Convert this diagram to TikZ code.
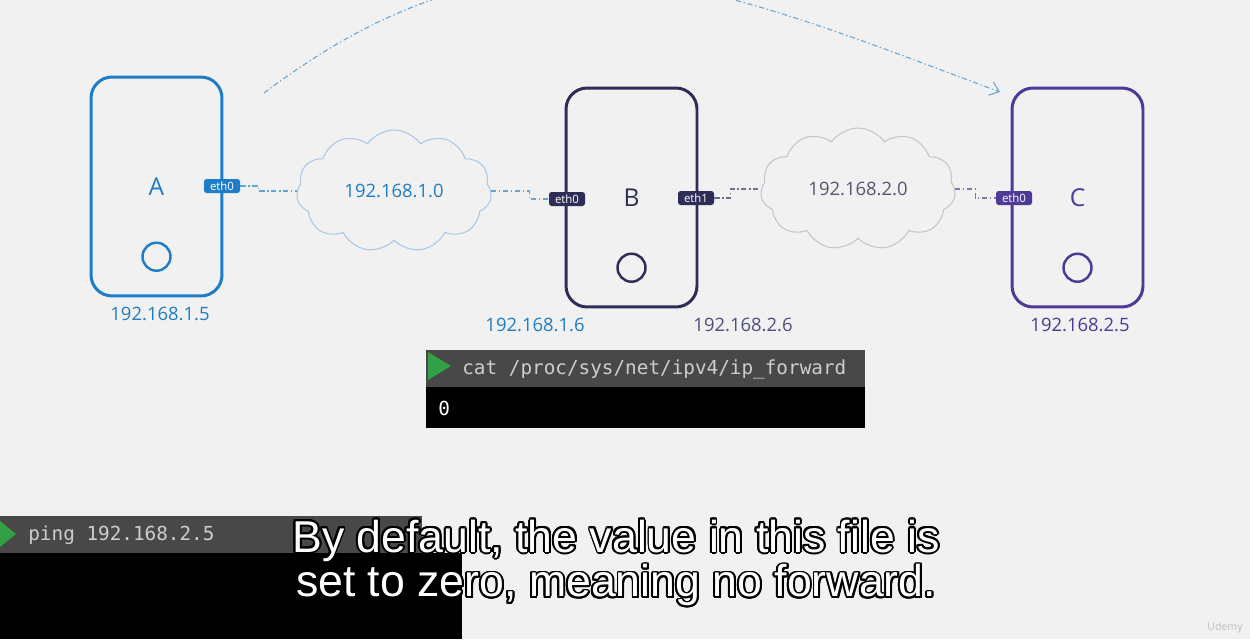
\documentclass[tikz,border=0pt]{standalone}
\usepackage{fontspec}
\setmainfont{Open Sans}
\newfontfamily\subfont{Liberation Sans}
\setmonofont{DejaVu Sans Mono}
\usepackage{contour}
\contourlength{1.1pt}
\usetikzlibrary{positioning}
\usetikzlibrary{shapes.symbols, arrows.meta}
\definecolor{bgcol}{RGB}{241,241,241}
\definecolor{hostA}{RGB}{30,125,200}
\definecolor{hostB}{RGB}{46,45,88}
\definecolor{hostC}{RGB}{78,56,152}
\definecolor{netA}{RGB}{170,200,230}
\definecolor{netB}{RGB}{196,196,204}
\definecolor{netBtext}{RGB}{85,85,112}
\definecolor{ipB}{RGB}{78,78,128}
\definecolor{hop}{RGB}{100,165,215}
\definecolor{termbar}{RGB}{72,72,72}
\definecolor{termtext}{RGB}{205,205,205}
\definecolor{prompt}{RGB}{50,160,70}

\begin{document}
\begin{tikzpicture}[x=0.02cm,y=-0.02cm,
  host/.style={draw,rounded corners=12pt,line width=1.7pt,minimum width=2.62cm,minimum height=4.38cm,inner sep=0pt,font=\fontsize{14}{14}\selectfont},
  nic/.style={rounded corners=1.5pt,minimum width=0.72cm,minimum height=0.28cm,inner sep=0pt,text=white,font=\fontsize{6.5}{6.5}\selectfont},
  port/.style={circle,draw,line width=1.4pt,minimum size=0.56cm,inner sep=0pt},
  ip/.style={font=\fontsize{10.5}{10.5}\selectfont},
  net/.style={cloud,cloud puffs=11,cloud puff arc=110,aspect=1.6,draw,line width=0.6pt,minimum width=3.9cm,minimum height=2.44cm,inner sep=0pt,font=\fontsize{10.5}{10.5}\selectfont},
  link/.style={line width=0.6pt,dash pattern=on 3pt off 1.5pt on 0.8pt off 1.5pt},
  cmd/.style={anchor=west,inner sep=0pt,font=\ttfamily\fontsize{11}{11}\selectfont}]
\fill[bgcol] (0,0) rectangle (1250,639);
\useasboundingbox (0,0) rectangle (1250,639);

\node[host,draw=hostA,text=hostA] (A) at (156.5,186.5) {A};
\node[host,draw=hostB,text=hostB] (B) at (631.5,197.5) {B};
\node[host,draw=hostC,text=hostC] (C) at (1077.5,197.5) {C};
\node[port,draw=hostA,below=1.1cm of A.center] (pA) {};
\node[port,draw=hostB,below=1.1cm of B.center] (pB) {};
\node[port,draw=hostC,below=1.1cm of C.center] (pC) {};

\node[nic,fill=hostA] (ethA) at (222,186) {eth0};
\node[nic,fill=hostB] (ethB0) at (567,199) {eth0};
\node[nic,fill=hostB] (ethB1) at (696,198) {eth1};
\node[nic,fill=hostC] (ethC) at (1014,198) {eth0};

\node[net,draw=netA,text=hostA] (netA) at (394,191) {192.168.1.0};
\node[net,draw=netB,text=netBtext] (netB) at (858,189) {192.168.2.0};

\draw[link,hostA!70] (ethA.east) -- ++(18,0) |- (netA.west);
\draw[link,hostA!70] (netA.east) -- ++(38,0) |- (ethB0.west);
\draw[link,hostB!70] (ethB1.east) -- ++(16,0) |- (netB.west);
\draw[link,hostC!70] (netB.east) -- ++(20,0) |- (ethC.west);

\node[ip,text=hostA] (ipA) at (160,314) {192.168.1.5};
\node[ip,text=hostA] (ipB0) at (535,325) {192.168.1.6};
\node[ip,text=ipB] (ipB1) at (743,325) {192.168.2.6};
\node[ip,text=hostC] (ipC) at (1080,325) {192.168.2.5};

\coordinate (hopS) at (264,93);
\coordinate (hopE) at (1000,92);
\draw[link,hop,-{Straight Barb[length=5pt,width=8pt]}] (hopS) .. controls (520,-100) and (700,-20) .. (hopE);

\fill[termbar] (426,350) rectangle (865,387);
\fill[black] (426,387) rectangle (865,428);
\fill[prompt] (428,352) -- (451,366) -- (428,380) -- cycle;
\node[cmd,text=termtext] (cat) at (462,369) {cat /proc/sys/net/ipv4/ip\_forward};
\node[cmd,text=white] (out) at (438,408) {0};

\fill[termbar] (0,516) rectangle (422,553);
\fill[black] (0,553) rectangle (462,639);
\fill[prompt] (0,521) -- (16,534) -- (0,547) -- cycle;
\node[cmd,text=termtext] (ping) at (28,535) {ping 192.168.2.5};

\node[text=white,align=center,font=\subfont\fontsize{25.4}{25.5}\selectfont] (sub) at (616,564)
  {\contour{black}{By default, the value in this file is}\\\contour{black}{set to zero, meaning no forward.}};
\node[text=black!25,font=\fontsize{6}{6}\selectfont] (logo) at (1225,628) {Udemy};
\end{tikzpicture}
\end{document}
